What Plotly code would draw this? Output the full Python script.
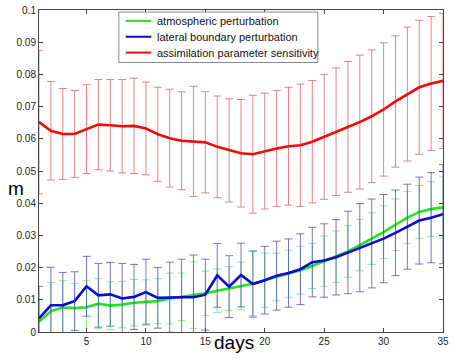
import plotly.graph_objects as go

days = list(range(1, 36))

red_mean = [0.0652, 0.0625, 0.0615, 0.0615, 0.0630, 0.0644, 0.0642, 0.0639, 0.0640, 0.0632,
            0.0614, 0.0602, 0.0594, 0.0592, 0.0589, 0.0575, 0.0564, 0.0555, 0.0552, 0.0562,
            0.0570, 0.0577, 0.0580, 0.0591, 0.0606, 0.0622, 0.0637, 0.0652, 0.0670, 0.0691,
            0.0716, 0.0739, 0.0760, 0.0772, 0.0780]
red_err = [0.0223, 0.0153, 0.0141, 0.0135, 0.0138, 0.0140, 0.0142, 0.0145, 0.0148, 0.0144,
           0.0146, 0.0152, 0.0152, 0.0171, 0.0157, 0.0158, 0.0160, 0.0167, 0.0183, 0.0180,
           0.0180, 0.0183, 0.0190, 0.0190, 0.0194, 0.0198, 0.0203, 0.0208, 0.0206, 0.0207,
           0.0204, 0.0208, 0.0208, 0.0208, 0.0210]

blue_mean = [0.0042, 0.0083, 0.0083, 0.0096, 0.0142, 0.0114, 0.0117, 0.0104, 0.0109, 0.0124,
             0.0106, 0.0108, 0.0108, 0.0108, 0.0116, 0.0176, 0.0141, 0.0177, 0.0149, 0.0161,
             0.0175, 0.0183, 0.0195, 0.0217, 0.0222, 0.0232, 0.0247, 0.0262, 0.0275, 0.0290,
             0.0308, 0.0327, 0.0346, 0.0355, 0.0366]
blue_err = [0.0100, 0.0118, 0.0102, 0.0091, 0.0093, 0.0099, 0.0099, 0.0109, 0.0101, 0.0102,
            0.0094, 0.0109, 0.0118, 0.0131, 0.0110, 0.0099, 0.0096, 0.0099, 0.0103, 0.0105,
            0.0107, 0.0106, 0.0110, 0.0108, 0.0114, 0.0117, 0.0128, 0.0137, 0.0138, 0.0137,
            0.0133, 0.0132, 0.0135, 0.0140, 0.0154]

green_mean = [0.0032, 0.0065, 0.0076, 0.0074, 0.0077, 0.0088, 0.0082, 0.0085, 0.0091, 0.0094,
              0.0096, 0.0104, 0.0109, 0.0114, 0.0120, 0.0128, 0.0135, 0.0143, 0.0150, 0.0161,
              0.0171, 0.0181, 0.0192, 0.0205, 0.0220, 0.0234, 0.0250, 0.0270, 0.0290, 0.0310,
              0.0333, 0.0355, 0.0373, 0.0382, 0.0387]
green_err = [0.0070, 0.0089, 0.0083, 0.0077, 0.0082, 0.0078, 0.0074, 0.0072, 0.0072, 0.0068,
             0.0070, 0.0079, 0.0074, 0.0104, 0.0069, 0.0068, 0.0068, 0.0074, 0.0099, 0.0084,
             0.0074, 0.0073, 0.0074, 0.0070, 0.0078, 0.0080, 0.0080, 0.0080, 0.0080, 0.0082,
             0.0080, 0.0081, 0.0082, 0.0085, 0.0095]

series_names = ["atmospheric perturbation", "lateral boundary perturbation",
                "assimilation parameter sensitivity"]
series_colors = ["#1ee61e", "#0a0ad2", "#f00a0a"]

x_ticks = [5, 10, 15, 20, 25, 30, 35]
y_ticks = [0, 0.01, 0.02, 0.03, 0.04, 0.05, 0.06, 0.07, 0.08, 0.09, 0.1]
y_tick_labels = ["0", "0.01", "0.02", "0.03", "0.04", "0.05", "0.06", "0.07", "0.08", "0.09", "0.1"]

FONT = "Liberation Sans, Arial, sans-serif"

fig = go.Figure()

fig.add_trace(go.Scatter(
    x=days, y=green_mean, mode="lines", name=series_names[0],
    line=dict(color=series_colors[0], width=2.6),
    error_y=dict(type="data", array=green_err, visible=True,
                 color="rgba(120,228,120,0.8)", thickness=1, width=4),
))
fig.add_trace(go.Scatter(
    x=days, y=blue_mean, mode="lines", name=series_names[1],
    line=dict(color=series_colors[1], width=2.6),
    error_y=dict(type="data", array=blue_err, visible=True,
                 color="rgba(60,60,190,0.7)", thickness=1, width=4),
))
fig.add_trace(go.Scatter(
    x=days, y=red_mean, mode="lines", name=series_names[2],
    line=dict(color=series_colors[2], width=2.6),
    error_y=dict(type="data", array=red_err, visible=True,
                 color="rgba(225,90,90,0.75)", thickness=1, width=4),
))

axis_common = dict(
    showline=True, linecolor="#444", linewidth=1, mirror="ticks",
    ticks="inside", ticklen=4, tickcolor="#444", showgrid=False, zeroline=False,
    tickfont=dict(family=FONT, size=10, color="#222"),
)

fig.update_xaxes(range=[1, 35], tickvals=x_ticks, ticklabeloverflow="allow", **axis_common)
fig.update_yaxes(range=[0, 0.1], tickvals=y_ticks, ticktext=y_tick_labels,
                 ticklabeloverflow="allow", **axis_common)

# manual legend (compact, like the original)
L, B, T = 39, 332, 7
W, H = 410, 325


def px(xp):
    return (xp - L) / W


def py(yp):
    return (B - yp) / H


shapes = [dict(type="rect", xref="paper", yref="paper",
               x0=px(120), x1=px(322), y0=py(60), y1=py(9),
               line=dict(color="#888", width=1), fillcolor="white", layer="above")]
annotations = []
rows = [18, 34, 50]
for name, col, ry in zip(series_names, series_colors, rows):
    shapes.append(dict(type="line", xref="paper", yref="paper",
                       x0=px(127), x1=px(153), y0=py(ry), y1=py(ry),
                       line=dict(color=col, width=2), layer="above"))
    annotations.append(dict(text=name, xref="paper", yref="paper", x=px(157), y=py(ry),
                            xanchor="left", yanchor="middle", showarrow=False,
                            font=dict(family=FONT, size=11, color="#111")))

annotations.append(dict(text="m", xref="paper", yref="paper", x=px(15.5), y=py(187),
                        xanchor="center", yanchor="middle", showarrow=False,
                        font=dict(family=FONT, size=19, color="#000")))
annotations.append(dict(text="days", xref="paper", yref="paper", x=px(237), y=py(343),
                        xanchor="center", yanchor="middle", showarrow=False,
                        font=dict(family=FONT, size=19, color="#000")))

fig.update_layout(
    width=453, height=361,
    margin=dict(l=39, r=4, t=7, b=29),
    paper_bgcolor="white", plot_bgcolor="white",
    showlegend=False,
    shapes=shapes,
    annotations=annotations,
)

fig.write_html("out.html")
